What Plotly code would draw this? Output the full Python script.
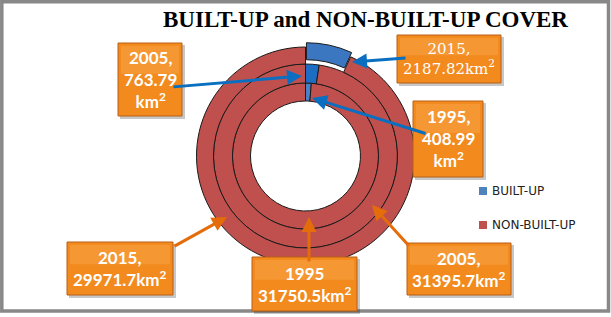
import plotly.graph_objects as go

# ---------------- data ----------------
categories = ["BUILT-UP", "NON-BUILT-UP"]
years = ["1995", "2005", "2015"]
built_up = [408.99, 763.79, 2187.82]          # km2
non_built_up = [31750.5, 31395.7, 29971.7]    # km2
title_text = "BUILT-UP and NON-BUILT-UP COVER"

# ---------------- styles ----------------
W, H = 611, 317
CX, CY = 305.5, 156.0
RED = "#C0504D"
BLUE_LEG = "#4F81BD"
ring_style = {  # year: (outer radius px, inner radius px, blue colour, pull)
    "1995": (73, 55, "#4A80C6", 0.0),
    "2005": (92, 73, "#1E6DC4", 0.0),
    "2015": (109, 92, "#3A77C0", 0.04),
}


def px(x):
    return x / W


def py(y):
    return 1 - y / H


fig = go.Figure()
for i, yr in enumerate(years):
    r_out, r_in, blue, pull = ring_style[yr]
    half = r_out * (1 + pull)
    fig.add_trace(go.Pie(
        labels=categories,
        values=[built_up[i], non_built_up[i]],
        name=yr,
        hole=r_in / r_out,
        sort=False,
        direction="clockwise",
        rotation=0,
        pull=[pull, 0],
        textinfo="none",
        hoverinfo="label+value",
        showlegend=False,
        marker=dict(colors=[blue, RED], line=dict(color="#1a1a1a", width=1)),
        domain=dict(x=[px(CX - half), px(CX + half)], y=[py(CY + half), py(CY - half)]),
    ))

shapes = []
annotations = []

# frame
shapes.append(dict(type="rect", xref="paper", yref="paper",
                   x0=px(1.8), x1=px(608.5), y0=py(1.8), y1=py(311),
                   line=dict(color="#888888", width=3.5), fillcolor="rgba(0,0,0,0)", layer="above"))

# title
annotations.append(dict(text="<b>" + title_text + "</b>", x=px(365), y=py(19.5), xref="paper", yref="paper",
                        showarrow=False, xanchor="center", yanchor="middle",
                        font=dict(family="Liberation Serif", size=23, color="black")))

# label boxes: (x0, y0, x1, y1, text, serif)
boxes = [
    (118, 43, 182, 116, f"{years[1]},<br>{built_up[1]}<br>km<sup>2</sup>", False),
    (397, 35, 501, 83, f"{years[2]},<br>{built_up[2]}km<sup>2</sup>", True),
    (413, 101, 483, 177, f"{years[0]},<br>{built_up[0]}<br>km<sup>2</sup>", False),
    (67, 242, 173, 295, f"{years[2]},<br>{non_built_up[2]}km<sup>2</sup>", False),
    (252, 257, 357, 311, f"{years[0]}<br>{non_built_up[0]}km<sup>2</sup>", False),
    (407, 243, 511, 295, f"{years[1]},<br>{non_built_up[1]}km<sup>2</sup>", False),
]

# arrows: (tail x, tail y, head x, head y, colour)
arrows = [
    (172, 87, 302, 76, "#0A6FC0"),
    (407, 58, 352, 62, "#0A6FC0"),
    (427, 134, 312, 98, "#0A6FC0"),
    (173, 247, 227, 217, "#E46C0A"),
    (309, 263, 309, 217, "#E46C0A"),
    (410, 247, 372, 205, "#E46C0A"),
]

for (x0, y0, x1, y1, txt, serif) in boxes:
    # shadow
    shapes.append(dict(type="rect", xref="paper", yref="paper",
                       x0=px(x0 + 2), x1=px(x1 + 3), y0=py(y1 + 3), y1=py(y0 + 2),
                       line=dict(width=0), fillcolor="rgba(0,0,0,0.22)", layer="above"))
    shapes.append(dict(type="rect", xref="paper", yref="paper",
                       x0=px(x0), x1=px(x1), y0=py(y1), y1=py(y0),
                       line=dict(color="#B85F16", width=1), fillcolor="#F28A1E", layer="above"))
    # bevel highlight on upper part
    shapes.append(dict(type="rect", xref="paper", yref="paper",
                       x0=px(x0 + 3), x1=px(x1 - 3), y0=py(y0 + (y1 - y0) * 0.42), y1=py(y0 + 3),
                       line=dict(width=0), fillcolor="rgba(255,190,110,0.25)", layer="above"))
    if serif:
        font = dict(family="DejaVu Serif", size=15, color="white")
    else:
        font = dict(family="Lato", size=17, color="white")
        txt = "<b>" + txt + "</b>"
    annotations.append(dict(text=txt, x=px((x0 + x1) / 2), y=py((y0 + y1) / 2),
                            xref="paper", yref="paper", showarrow=False,
                            xanchor="center", yanchor="middle", font=font))

for (tx, ty, hx, hy, col) in arrows:
    annotations.append(dict(text="", x=px(hx), y=py(hy), xref="paper", yref="paper",
                            ax=tx - hx, ay=ty - hy, axref="pixel", ayref="pixel",
                            showarrow=True, arrowhead=2, arrowsize=1, arrowwidth=3,
                            arrowcolor=col, standoff=0, startstandoff=0))

# legend
legend_items = [(categories[0], BLUE_LEG, 191), (categories[1], RED, 225)]
for name, col, yc in legend_items:
    shapes.append(dict(type="rect", xref="paper", yref="paper",
                       x0=px(479), x1=px(487), y0=py(yc + 4), y1=py(yc - 4),
                       line=dict(width=0), fillcolor=col))
    annotations.append(dict(text=name, x=px(490), y=py(yc), xref="paper", yref="paper",
                            showarrow=False, xanchor="left", yanchor="middle",
                            font=dict(family="DejaVu Sans", size=12, color="#222222")))

fig.update_layout(
    width=W, height=H,
    margin=dict(l=0, r=0, t=0, b=0),
    paper_bgcolor="white", plot_bgcolor="white",
    shapes=shapes, annotations=annotations,
    showlegend=False,
)

fig.write_html("out.html", config={"displayModeBar": False},
               post_script="document.body.style.margin='0';document.body.style.overflow='hidden';")
